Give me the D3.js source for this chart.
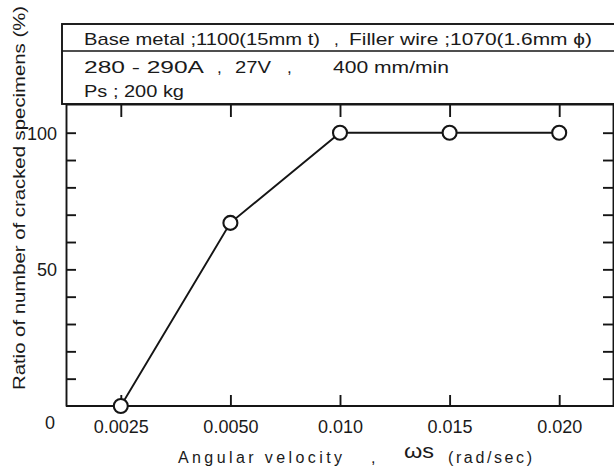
<!DOCTYPE html>
<html><head><meta charset="utf-8">
<script src="https://cdn.jsdelivr.net/npm/d3@7"></script>
<style>
body{margin:0;background:#fff;}
svg{display:block;}
text{font-family:"Liberation Sans",Arial,sans-serif;fill:#1a1a1a;}
</style></head>
<body>
<script>
const categories = ["0.0025","0.0050","0.010","0.015","0.020"];
const values = [0, 67, 100, 100, 100];
const yMajorTicks = [0, 50, 100];
const yMinorTicks = [10,20,30,40,50,60,70,80,90,100];
const headerLines = [
  [{t:"Base metal ;1100(15mm t)", x0:84, x1:320}, {t:",", x0:334, x1:337}, {t:"Filler wire ;1070(1.6mm ϕ)", x0:349, x1:592}],
  [{t:"280 - 290A", x0:84, x1:204}, {t:",", x0:217, x1:220}, {t:"27V", x0:235, x1:271}, {t:",", x0:287, x1:290}, {t:"400 mm/min", x0:333, x1:449}],
  [{t:"Ps ; 200 kg", x0:84, x1:184}]
];
const headerBaselines = [45, 73, 97];
const xTitle = "Angular velocity";
const yTitle = "Ratio of number of cracked specimens (%)";

(function(){
const W = 614, H = 467;
const svg = d3.select("body").append("svg").attr("width", W).attr("height", H);
const col = "#151515";

const pLeft = 66, pRight = 614, pTop = 104, pBottom = 406;
const x = d3.scalePoint().domain(categories).range([pLeft, pRight]).padding(0.5);
const y = d3.scaleLinear().domain([0, 110.5]).range([pBottom, pTop]);

// header box
svg.append("rect").attr("x", 62).attr("y", 24).attr("width", 600).attr("height", pTop - 24)
  .attr("fill", "none").attr("stroke", col).attr("stroke-width", 1.9);
svg.append("line").attr("x1", 62).attr("x2", 662).attr("y1", 51).attr("y2", 51)
  .attr("stroke", col).attr("stroke-width", 1.6);
headerLines.forEach((line, i) => {
  line.forEach(seg => {
    const tx = svg.append("text").attr("x", seg.x0).attr("y", headerBaselines[i])
      .attr("font-size", 17).text(seg.t);
    if (seg.t.length > 1) tx.attr("textLength", seg.x1 - seg.x0).attr("lengthAdjust", "spacingAndGlyphs");
  });
});

function styleAxis(g){
  g.selectAll("path,line").attr("stroke", col).attr("stroke-width", 1.9);
  g.selectAll("text").remove();
}
// axes
svg.append("g").attr("transform", `translate(${pLeft},0)`)
  .call(d3.axisLeft(y).tickValues(yMinorTicks).tickSize(-10).tickSizeOuter(0).tickFormat(""))
  .call(styleAxis);
svg.append("g").attr("transform", `translate(${pRight - 1},0)`)
  .call(d3.axisRight(y).tickValues(yMinorTicks).tickSize(-10).tickSizeOuter(0).tickFormat(""))
  .call(styleAxis);
svg.append("g").attr("transform", `translate(0,${pTop})`)
  .call(d3.axisTop(x).tickSize(-13).tickSizeOuter(0).tickFormat(""))
  .call(styleAxis);
const gx = svg.append("g").attr("transform", `translate(0,${pBottom})`)
  .call(d3.axisBottom(x).tickSize(-11).tickSizeOuter(0).tickPadding(14));
gx.selectAll("path,line").attr("stroke", col).attr("stroke-width", 1.9);
gx.selectAll("text").attr("font-size", 18).attr("fill", col)
  .attr("font-family", "'Liberation Sans',Arial,sans-serif");
gx.select(".domain").attr("d", `M${pLeft},0H${pRight}`);

// y labels
svg.selectAll(".ylab").data(yMajorTicks).enter().append("text")
  .attr("class", "ylab")
  .attr("x", d => d === 0 ? 55 : 57)
  .attr("y", d => d === 0 ? y(d) + 23 : y(d) + 7)
  .attr("text-anchor", "end").attr("font-size", 18)
  .text(d => d);

// data line and markers
const pts = categories.map((c, i) => ({c, v: values[i]}));
svg.append("path").datum(pts)
  .attr("d", d3.line().x(d => x(d.c)).y(d => y(d.v)))
  .attr("fill", "none").attr("stroke", col).attr("stroke-width", 1.9);
svg.selectAll(".pt").data(pts).enter().append("circle")
  .attr("class", "pt").attr("cx", d => x(d.c)).attr("cy", d => y(d.v)).attr("r", 7)
  .attr("fill", "#fff").attr("stroke", col).attr("stroke-width", 2.1);

// x title
svg.append("text").attr("x", 178).attr("y", 463).attr("font-size", 16)
  .attr("textLength", 164).attr("lengthAdjust", "spacing").text(xTitle);
svg.append("text").attr("x", 371).attr("y", 463).attr("font-size", 16).text(",");
svg.append("text").attr("x", 404).attr("y", 458).attr("font-size", 20)
  .attr("textLength", 30).attr("lengthAdjust", "spacingAndGlyphs").text("ωs");
svg.append("text").attr("x", 448).attr("y", 463).attr("font-size", 16)
  .attr("textLength", 84).attr("lengthAdjust", "spacing").text("(rad/sec)");

// y title
svg.append("text").attr("transform", "translate(25,390) rotate(-90)")
  .attr("font-size", 16).attr("textLength", 384).attr("lengthAdjust", "spacingAndGlyphs")
  .text(yTitle);
})();
</script>
</body></html>
